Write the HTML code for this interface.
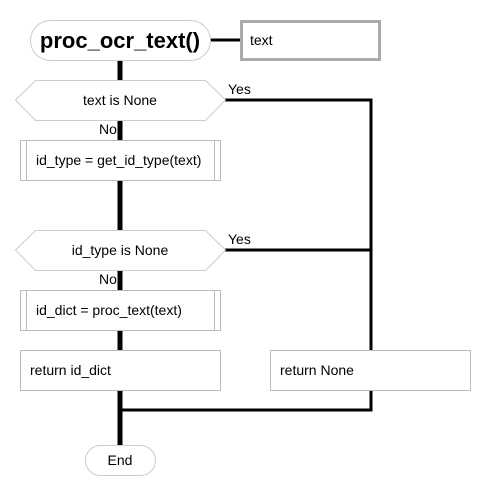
<!DOCTYPE html>
<html><head><meta charset="utf-8"><style>
html,body{margin:0;padding:0;background:#fff;}
svg{display:block;}
text{font-family:"Liberation Sans",sans-serif;fill:#000;}
</style></head><body>
<svg width="490" height="500" viewBox="0 0 490 500" xmlns="http://www.w3.org/2000/svg">
<rect width="490" height="500" fill="#fff"/>
<!-- connectors -->
<line x1="120" y1="60" x2="120" y2="446" stroke="#000" stroke-width="5"/>
<line x1="210" y1="40" x2="240" y2="40" stroke="#000" stroke-width="3"/>
<polyline points="225,100 371,100 371,410 120,410" fill="none" stroke="#000" stroke-width="3"/>
<line x1="225" y1="250" x2="371" y2="250" stroke="#000" stroke-width="3"/>
<!-- title -->
<rect x="30.5" y="20.5" width="180" height="40" rx="20" fill="#fff" stroke="#ccc"/>
<text x="120" y="48" font-size="22" font-weight="bold" text-anchor="middle">proc_ocr_text()</text>
<rect x="241.5" y="21.5" width="138" height="38" fill="#fff" stroke="#aaa" stroke-width="3"/>
<text x="250" y="45" font-size="14">text</text>
<!-- decision 1 -->
<polygon points="15.5,100 35.5,80.5 205.5,80.5 225.5,100 205.5,120.5 35.5,120.5" fill="#fff" stroke="#ccc"/>
<text x="120" y="105" font-size="14" text-anchor="middle">text is None</text>
<text x="228" y="94" font-size="14">Yes</text>
<text x="99" y="134" font-size="14">No</text>
<!-- process 1 -->
<rect x="20.5" y="140.5" width="200" height="40" fill="#fff" stroke="#bbb"/>
<line x1="26.5" y1="140.5" x2="26.5" y2="180.5" stroke="#bbb"/>
<line x1="214.5" y1="140.5" x2="214.5" y2="180.5" stroke="#bbb"/>
<text x="36" y="165" font-size="14">id_type = get_id_type(text)</text>
<!-- decision 2 -->
<polygon points="15.5,250 35.5,230.5 205.5,230.5 225.5,250 205.5,270.5 35.5,270.5" fill="#fff" stroke="#ccc"/>
<text x="120" y="255" font-size="14" text-anchor="middle">id_type is None</text>
<text x="228" y="244" font-size="14">Yes</text>
<text x="99" y="284" font-size="14">No</text>
<!-- process 2 -->
<rect x="20.5" y="290.5" width="200" height="40" fill="#fff" stroke="#bbb"/>
<line x1="26.5" y1="290.5" x2="26.5" y2="330.5" stroke="#bbb"/>
<line x1="214.5" y1="290.5" x2="214.5" y2="330.5" stroke="#bbb"/>
<text x="36" y="315" font-size="14">id_dict = proc_text(text)</text>
<!-- returns -->
<rect x="20.5" y="350.5" width="200" height="40" fill="#fff" stroke="#bbb"/>
<text x="30" y="375" font-size="14">return id_dict</text>
<rect x="270.5" y="350.5" width="200" height="40" fill="#fff" stroke="#bbb"/>
<text x="280" y="375" font-size="14">return None</text>
<!-- end -->
<rect x="85.5" y="445.5" width="70" height="30" rx="15" fill="#fff" stroke="#ccc"/>
<text x="120" y="465" font-size="14" text-anchor="middle">End</text>
</svg>
</body></html>
